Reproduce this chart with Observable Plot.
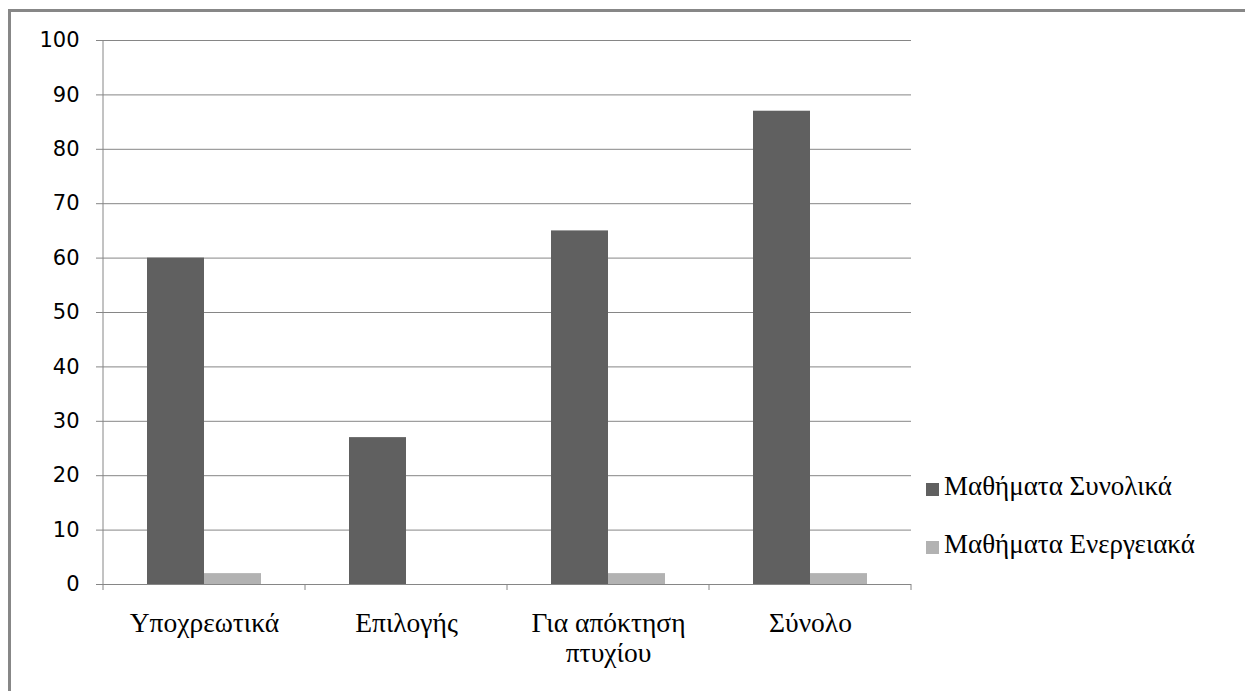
<!DOCTYPE html>
<html>
<head>
<meta charset="utf-8">
<script src="https://cdn.jsdelivr.net/npm/d3@7"></script>
<script src="https://cdn.jsdelivr.net/npm/@observablehq/plot@0.6"></script>
<style>
  html, body { margin: 0; padding: 0; background: #fff; }
  #wrap { position: relative; width: 1245px; height: 691px; overflow: hidden; }
  #frame { position: absolute; left: 8px; top: 9px; width: 1300px; height: 800px;
           border-top: 3px solid #878787; border-left: 3px solid #878787; }
  #chart { position: absolute; left: 0; top: 0; }
  .item { position: absolute; left: 944px; font-family: "Liberation Serif", "DejaVu Serif", serif;
          font-size: 27px; line-height: 32px; color: #000; white-space: nowrap; }
  .sw { position: absolute; left: 926px; width: 13px; height: 13px; }
</style>
</head>
<body>
<div id="wrap">
  <div id="frame"></div>
  <div id="chart"></div>
</div>
<script>
const categories = ["Υποχρεωτικά", "Επιλογής", "Για απόκτηση πτυχίου", "Σύνολο"];
const tickLabels = ["Υποχρεωτικά", "Επιλογής", "Για απόκτηση\nπτυχίου", "Σύνολο"];
const series = ["Μαθήματα Συνολικά", "Μαθήματα Ενεργειακά"];
const totalValues = [60, 27, 65, 87];
const energyValues = [2, 0, 2, 2];
const colors = ["#606060", "#b2b2b2"];
const yTicks = [0, 10, 20, 30, 40, 50, 60, 70, 80, 90, 100];

const data = [];
categories.forEach((c, i) => {
  data.push({category: c, series: series[0], value: totalValues[i]});
  data.push({category: c, series: series[1], value: energyValues[i]});
});

const gridColor = "#868686";

const plot = Plot.plot({
  width: 1245,
  height: 691,
  marginLeft: 103,
  marginRight: 334,
  marginTop: 40,
  marginBottom: 107,
  style: {background: "transparent", color: "#000"},
  fx: {domain: categories, padding: 0, axis: null, label: null},
  x: {domain: series, paddingInner: 0, paddingOuter: 0.77, axis: null, label: null},
  y: {domain: [0, 100], axis: null, label: null},
  color: {domain: series, range: colors},
  marks: [
    Plot.gridY(yTicks, {stroke: gridColor, strokeOpacity: 1, strokeWidth: 1}),
    Plot.barY(data, {fx: "category", x: "series", y: "value", fill: "series"}),
    Plot.axisY(yTicks, {tickSize: 7, tickPadding: 17, stroke: gridColor, fontSize: 21,
      fontFamily: "DejaVu Sans", fill: "#000", label: null}),
    Plot.axisFx({anchor: "bottom", tickSize: 0, tickPadding: 26, fontSize: 27.5,
      fontFamily: "Liberation Serif, DejaVu Serif, serif", lineHeight: 1.1, fill: "#000", label: null,
      tickFormat: (d) => tickLabels[categories.indexOf(d)]})
  ]
});
document.getElementById("chart").appendChild(plot);

// axis line and category-boundary ticks from the library's scales
const fx = plot.scale("fx");
const y = plot.scale("y");
const svg = d3.select(plot);
const y0 = y.apply(0), y100 = y.apply(100);
const left = fx.apply(categories[0]);
const g = svg.append("g").attr("stroke", gridColor).attr("stroke-width", 1);
g.append("line").attr("x1", left).attr("x2", left).attr("y1", y100).attr("y2", y0 + 6);
categories.forEach((c) => {
  const xs = fx.apply(c) + fx.bandwidth;
  g.append("line").attr("x1", xs).attr("x2", xs).attr("y1", y0).attr("y2", y0 + 6);
});

const wrap = document.getElementById("wrap");
const legendTops = [470, 528];
const swatchTops = [483, 541];
series.forEach((s, i) => {
  const sw = document.createElement("div");
  sw.className = "sw";
  sw.style.background = colors[i];
  sw.style.top = swatchTops[i] + "px";
  const t = document.createElement("div");
  t.className = "item";
  t.style.top = legendTops[i] + "px";
  t.textContent = s;
  wrap.appendChild(sw);
  wrap.appendChild(t);
});
</script>
</body>
</html>
